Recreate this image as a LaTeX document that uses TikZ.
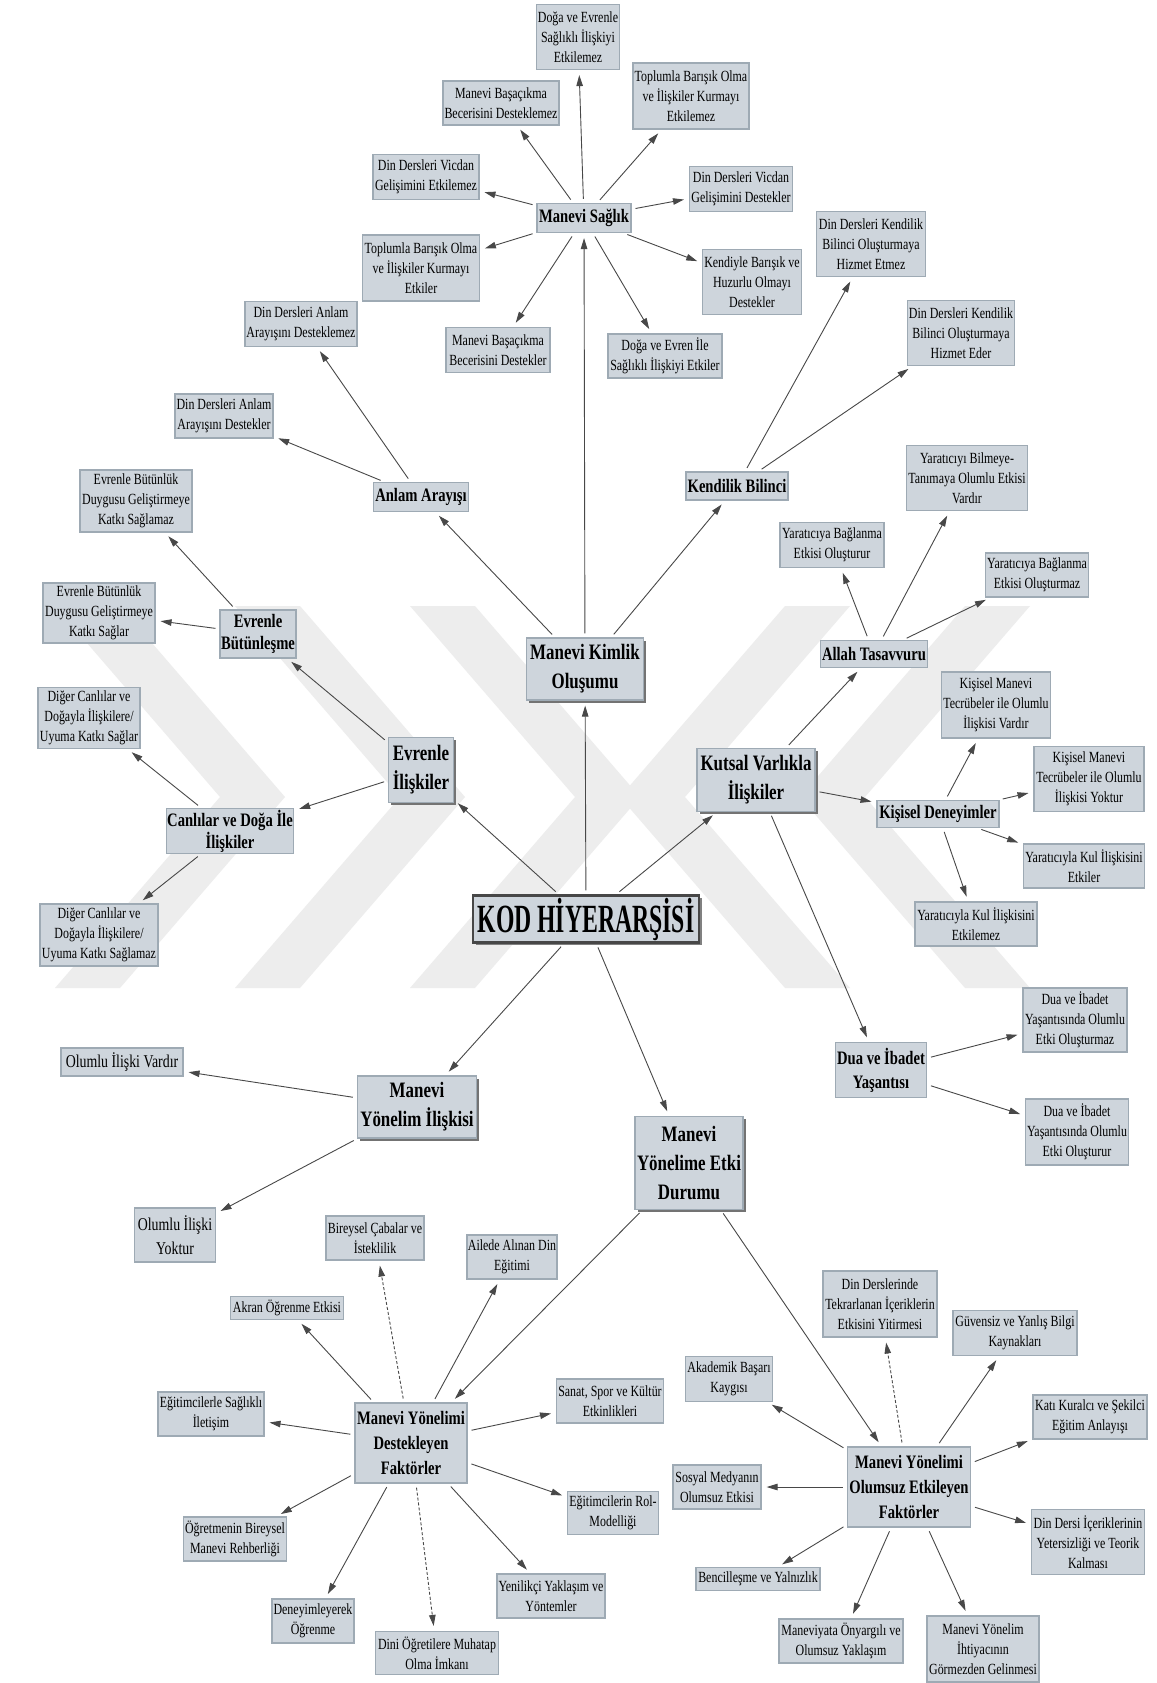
\documentclass[tikz,border=0pt]{standalone}
\usepackage{fontspec}
\setmainfont{Liberation Serif}[FakeStretch=0.77]
\usetikzlibrary{arrows.meta,shadows}
\definecolor{boxfill}{RGB}{206,213,220}
\definecolor{boxline}{RGB}{158,170,180}
\definecolor{linec}{RGB}{72,72,72}
\definecolor{wmark}{RGB}{237,237,237}
\newcommand\fsmall{\fontsize{15.5}{20}\selectfont}
\newcommand\fmid{\fontsize{19}{24}\selectfont\bfseries}
\newcommand\fbig{\fontsize{22}{29}\selectfont\bfseries}
\newcommand\fplain{\fontsize{18}{24}\selectfont}
\tikzset{
  cbox/.style={draw=boxline, fill=boxfill, line width=1.2pt, align=center, inner sep=1pt},
  sz/.style 2 args={minimum width=#1, minimum height=#2},
  leafbox/.style={cbox, font=\fsmall},
  plainbox/.style={cbox, font=\fplain},
  lvltwo/.style={cbox, font=\fmid},
  lvlone/.style={cbox, font=\fbig, drop shadow={shadow xshift=2.5pt, shadow yshift=-2.5pt, fill=black!55, opacity=1}},
  rootbox/.style={cbox, draw=black!72, line width=2.4pt, drop shadow={shadow xshift=2.5pt, shadow yshift=-2.5pt, fill=black!50, opacity=1}},
  conn/.style={draw=linec, line width=0.9pt, -{Triangle[length=11pt,width=6.5pt]}, shorten <=4pt, shorten >=5pt},
  dconn/.style={conn, dash pattern=on 3pt off 2pt},
  % chevron bands of the background mark: ##1 tip x, pointing right
  chevr/.style={fill=wmark},
}
\begin{document}
\begin{tikzpicture}[x=1pt,y=-1pt]
\fill[white] (0,0) rectangle (1156,1683);
\useasboundingbox (0,0) rectangle (1156,1683);

% background mark: nested chevrons
\foreach \tx in {220,400,575} {
  \fill[chevr] (\tx-165,606) -- (\tx-100,606) -- (\tx+65,797) -- (\tx-100,988) -- (\tx-165,988) -- (\tx,797) -- cycle;
}
\foreach \tx in {620,800} {
  \fill[chevr] (\tx+165,606) -- (\tx+230,606) -- (\tx+65,797) -- (\tx+230,988) -- (\tx+165,988) -- (\tx,797) -- cycle;
}

% root
\node[rootbox, sz={226}{47}] (kod) at (586,919) {\scalebox{0.77}[1]{\fontsize{40}{44}\selectfont\bfseries KOD HİYERARŞİSİ}};

% first level
\node[lvlone, sz={117}{62}] (mk) at (585,669) {Manevi Kimlik\\Oluşumu};
\node[lvlone, sz={65}{65}] (ei) at (421,770) {Evrenle\\İlişkiler};
\node[lvlone, sz={118}{63}] (kv) at (756,780) {Kutsal Varlıkla\\İlişkiler};
\node[lvlone, sz={119}{62}] (my) at (417,1107) {Manevi\\Yönelim İlişkisi};
\node[lvlone, sz={108}{93}] (me) at (689,1163) {Manevi\\Yönelime Etki\\Durumu};

% Manevi Sağlık
\node[lvltwo, sz={94}{29}] (ms) at (584,218) {Manevi Sağlık};
\node[leafbox, sz={83}{65}] (ms1) at (578,37) {Doğa ve Evrenle\\Sağlıklı İlişkiyi\\Etkilemez};
\node[leafbox, sz={116}{44}] (ms2) at (501,103) {Manevi Başaçıkma\\Becerisini Desteklemez};
\node[leafbox, sz={116}{66}] (ms3) at (691,96) {Toplumla Barışık Olma\\ve İlişkiler Kurmayı\\Etkilemez};
\node[leafbox, sz={106}{45}] (ms4) at (426,177) {Din Dersleri Vicdan\\Gelişimini Etkilemez};
\node[leafbox, sz={103}{45}] (ms5) at (741,189) {Din Dersleri Vicdan\\Gelişimini Destekler};
\node[leafbox, sz={117}{66}] (ms6) at (421,268) {Toplumla Barışık Olma\\ve İlişkiler Kurmayı\\Etkiler};
\node[leafbox, sz={104}{45}] (ms7) at (498,350) {Manevi Başaçıkma\\Becerisini Destekler};
\node[leafbox, sz={114}{44}] (ms8) at (665,356) {Doğa ve Evren İle\\Sağlıklı İlişkiyi Etkiler};
\node[leafbox, sz={99}{65}] (ms9) at (752,282) {Kendiyle Barışık ve\\Huzurlu Olmayı\\Destekler};

% Anlam Arayışı
\node[lvltwo, sz={95}{29}] (aa) at (421,497) {Anlam Arayışı};
\node[leafbox, sz={112}{45}] (aa1) at (301,324) {Din Dersleri Anlam\\Arayışını Desteklemez};
\node[leafbox, sz={98}{44}] (aa2) at (224,416) {Din Dersleri Anlam\\Arayışını Destekler};

% Kendilik Bilinci
\node[lvltwo, sz={102}{28}] (kb) at (737,486) {Kendilik Bilinci};
\node[leafbox, sz={109}{65}] (kb1) at (871,244) {Din Dersleri Kendilik\\Bilinci Oluşturmaya\\Hizmet Etmez};
\node[leafbox, sz={107}{65}] (kb2) at (961,333) {Din Dersleri Kendilik\\Bilinci Oluşturmaya\\Hizmet Eder};

% Evrenle İlişkiler
\node[lvltwo, sz={74}{48}, font=\fontsize{19}{22}\selectfont\bfseries] (eb) at (258,634) {Evrenle\\Bütünleşme};
\node[leafbox, sz={112}{62}] (eb1) at (136,501) {Evrenle Bütünlük\\Duygusu Geliştirmeye\\Katkı Sağlamaz};
\node[leafbox, sz={112}{60}] (eb2) at (99,613) {Evrenle Bütünlük\\Duygusu Geliştirmeye\\Katkı Sağlar};
\node[lvltwo, sz={118}{45}, font=\fontsize{19}{22}\selectfont\bfseries] (cd) at (230,831) {Canlılar ve Doğa İle\\İlişkiler};
\node[leafbox, sz={102}{61}] (cd1) at (89,718) {Diğer Canlılar ve\\Doğayla İlişkilere/\\Uyuma Katkı Sağlar};
\node[leafbox, sz={118}{62}] (cd2) at (99,935) {Diğer Canlılar ve\\Doğayla İlişkilere/\\Uyuma Katkı Sağlamaz};

% Kutsal Varlıkla İlişkiler
\node[lvltwo, sz={107}{27}] (at) at (874,654) {Allah Tasavvuru};
\node[leafbox, sz={104}{45}] (at1) at (832,545) {Yaratıcıya Bağlanma\\Etkisi Oluşturur};
\node[leafbox, sz={121}{65}] (at2) at (967,478) {Yaratıcıyı Bilmeye-\\Tanımaya Olumlu Etkisi\\Vardır};
\node[leafbox, sz={103}{44}] (at3) at (1037,575) {Yaratıcıya Bağlanma\\Etkisi Oluşturmaz};
\node[lvltwo, sz={122}{27}] (kd) at (938,814) {Kişisel Deneyimler};
\node[leafbox, sz={109}{66}] (kd1) at (996,705) {Kişisel Manevi\\Tecrübeler ile Olumlu\\İlişkisi Vardır};
\node[leafbox, sz={110}{65}] (kd2) at (1089,779) {Kişisel Manevi\\Tecrübeler ile Olumlu\\İlişkisi Yoktur};
\node[leafbox, sz={121}{44}] (kd3) at (1084,866) {Yaratıcıyla Kul İlişkisini\\Etkiler};
\node[leafbox, sz={122}{44}] (kd4) at (976,924) {Yaratıcıyla Kul İlişkisini\\Etkilemez};
\node[lvltwo, sz={91}{55}] (di) at (881,1070) {Dua ve İbadet\\Yaşantısı};
\node[leafbox, sz={104}{64}] (di1) at (1075,1020) {Dua ve İbadet\\Yaşantısında Olumlu\\Etki Oluşturmaz};
\node[leafbox, sz={103}{66}] (di2) at (1077,1132) {Dua ve İbadet\\Yaşantısında Olumlu\\Etki Oluşturur};

% Manevi Yönelim İlişkisi
\node[plainbox, sz={122}{28}] (my1) at (122,1062) {Olumlu İlişki Vardır};
\node[plainbox, sz={81}{54}] (my2) at (175,1235) {Olumlu İlişki\\Yoktur};

% Manevi Yönelimi Destekleyen Faktörler
\node[lvltwo, sz={112}{80}, font=\fontsize{19}{25}\selectfont\bfseries] (md) at (411,1443) {Manevi Yönelimi\\Destekleyen\\Faktörler};
\node[leafbox, sz={98}{44}] (md1) at (375,1238) {Bireysel Çabalar ve\\İsteklilik};
\node[leafbox, sz={90}{44}] (md2) at (512,1257) {Ailede Alınan Din\\Eğitimi};
\node[leafbox, sz={113}{23}] (md3) at (287,1308) {Akran Öğrenme Etkisi};
\node[leafbox, sz={106}{44}] (md4) at (211,1414) {Eğitimcilerle Sağlıklı\\İletişim};
\node[leafbox, sz={107}{44}] (md5) at (610,1401) {Sanat, Spor ve Kültür\\Etkinlikleri};
\node[leafbox, sz={91}{43}] (md6) at (613,1513) {Eğitimcilerin Rol-\\Modelliği};
\node[leafbox, sz={103}{44}] (md7) at (235,1539) {Öğretmenin Bireysel\\Manevi Rehberliği};
\node[leafbox, sz={82}{44}] (md8) at (313,1621) {Deneyimleyerek\\Öğrenme};
\node[leafbox, sz={123}{43}] (md9) at (437,1653) {Dini Öğretilere Muhatap\\Olma İmkanı};
\node[leafbox, sz={108}{44}] (md10) at (551,1596) {Yenilikçi Yaklaşım ve\\Yöntemler};

% Manevi Yönelimi Olumsuz Etkileyen Faktörler
\node[lvltwo, sz={123}{80}, font=\fontsize{19}{25}\selectfont\bfseries] (mo) at (909,1487) {Manevi Yönelimi\\Olumsuz Etkileyen\\Faktörler};
\node[leafbox, sz={114}{66}] (mo1) at (880,1304) {Din Derslerinde\\Tekrarlanan İçeriklerin\\Etkisini Yitirmesi};
\node[leafbox, sz={124}{45}] (mo2) at (1015,1333) {Güvensiz ve Yanlış Bilgi\\Kaynakları};
\node[leafbox, sz={87}{45}] (mo3) at (729,1379) {Akademik Başarı\\Kaygısı};
\node[leafbox, sz={114}{44}] (mo4) at (1090,1417) {Katı Kuralcı ve Şekilci\\Eğitim Anlayışı};
\node[leafbox, sz={88}{44}] (mo5) at (717,1487) {Sosyal Medyanın\\Olumsuz Etkisi};
\node[leafbox, sz={113}{65}] (mo6) at (1088,1542) {Din Dersi İçeriklerinin\\Yetersizliği ve Teorik\\Kalması};
\node[leafbox, sz={124}{23}] (mo7) at (758,1579) {Bencilleşme ve Yalnızlık};
\node[leafbox, sz={124}{44}] (mo8) at (841,1641) {Maneviyata Önyargılı ve\\Olumsuz Yaklaşım};
\node[leafbox, sz={112}{66}] (mo9) at (983,1649) {Manevi Yönelim\\İhtiyacının\\Görmezden Gelinmesi};

% connectors from the root
\foreach \t in {mk,ei,kv,my,me} \draw[conn] (kod) -- (\t);
% first level to second level
\foreach \t in {ms,aa,kb} \draw[conn] (mk) -- (\t);
\foreach \t in {eb,cd} \draw[conn] (ei) -- (\t);
\foreach \t in {at,kd,di} \draw[conn] (kv) -- (\t);
\foreach \t in {my1,my2} \draw[conn] (my) -- (\t);
\foreach \t in {md,mo} \draw[conn] (me) -- (\t);
% second level to leaves
\foreach \t in {ms1,ms2,ms3,ms4,ms5,ms6,ms7,ms8,ms9} \draw[conn] (ms) -- (\t);
\foreach \t in {aa1,aa2} \draw[conn] (aa) -- (\t);
\foreach \t in {kb1,kb2} \draw[conn] (kb) -- (\t);
\foreach \t in {eb1,eb2} \draw[conn] (eb) -- (\t);
\foreach \t in {cd1,cd2} \draw[conn] (cd) -- (\t);
\foreach \t in {at1,at2,at3} \draw[conn] (at) -- (\t);
\foreach \t in {kd1,kd2,kd3,kd4} \draw[conn] (kd) -- (\t);
\foreach \t in {di1,di2} \draw[conn] (di) -- (\t);
\foreach \t in {md2,md3,md4,md5,md6,md7,md8,md10} \draw[conn] (md) -- (\t);
\foreach \t in {md1,md9} \draw[dconn] (md) -- (\t);
\foreach \t in {mo2,mo3,mo4,mo5,mo6,mo7,mo8,mo9} \draw[conn] (mo) -- (\t);
\draw[dconn] (mo) -- (mo1);
\end{tikzpicture}
\end{document}
